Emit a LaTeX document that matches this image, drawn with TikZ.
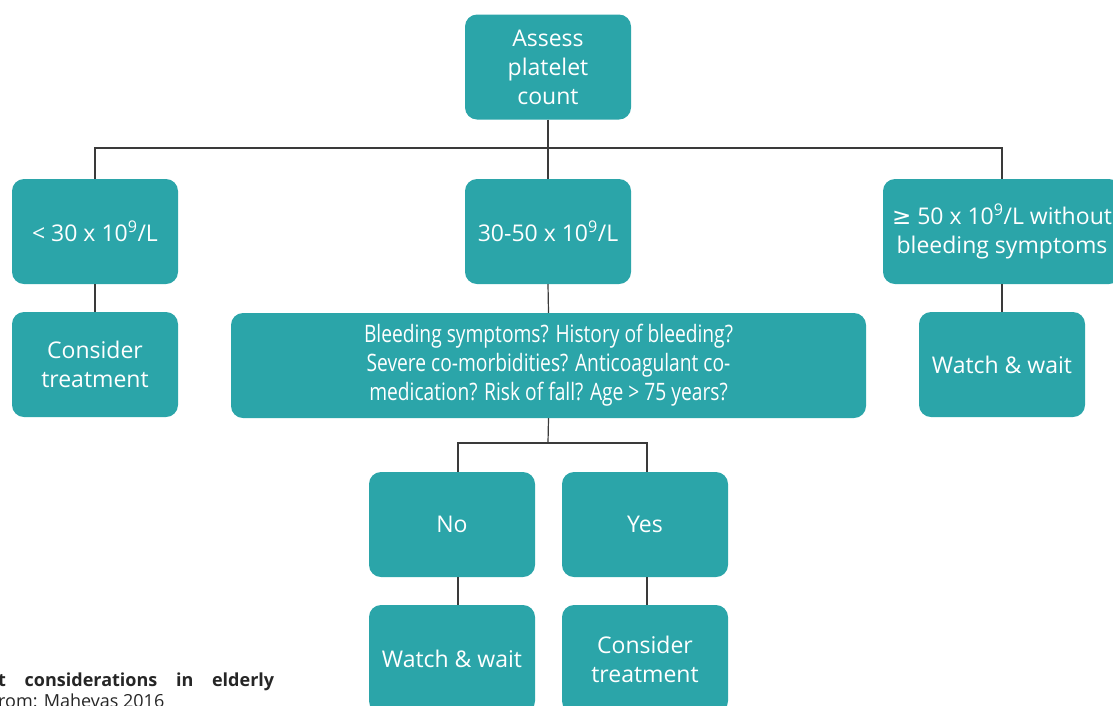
\documentclass[tikz,border=0pt]{standalone}
\usepackage{fontspec}
\setmainfont{Open Sans}
\newfontfamily\symf{DejaVu Sans}
\newfontfamily\condf[FakeStretch=0.80]{Open Sans}
\definecolor{teal1}{HTML}{2BA5A9}
\definecolor{linec}{HTML}{3A3A3A}
\begin{document}
\begin{tikzpicture}[x=1pt,y=-1pt,
  box/.style={fill=teal1, draw=none, rounded corners=12pt, text=white, align=center,
    font=\fontsize{23}{29}\selectfont, inner sep=0pt, anchor=center},
  conn/.style={draw=linec, line width=1.2pt}]
\clip (0,0) rectangle (1113,705);
\useasboundingbox (0,0) rectangle (1113,705);
% boxes
\node[box, minimum width=166pt, minimum height=105pt] (assess) at (548,67) {Assess\\platelet\\count};
\node[box, minimum width=166pt, minimum height=105pt] (low) at (95,231.5) {< 30 x 10\textsuperscript{9}/L};
\node[box, minimum width=166pt, minimum height=105pt] (mid) at (548,231.5) {30-50 x 10\textsuperscript{9}/L};
\node[box, minimum width=238pt, minimum height=105pt] (high) at (1002,231.5) {{\symf ≥} 50 x 10\textsuperscript{9}/L without\\bleeding symptoms};
\node[box, minimum width=166pt, minimum height=105pt] (ct1) at (95,364.5) {Consider\\treatment};
\node[box, minimum width=635pt, minimum height=105pt, font=\condf\fontsize{24}{29}\selectfont] (bleed) at (548.5,365.5) {Bleeding symptoms? History of bleeding?\\Severe co-morbidities? Anticoagulant co-\\medication? Risk of fall? Age > 75 years?};
\node[box, minimum width=166pt, minimum height=105pt] (ww1) at (1002,364.5) {Watch \& wait};
\node[box, minimum width=166pt, minimum height=105pt] (no) at (452,524.5) {No};
\node[box, minimum width=166pt, minimum height=105pt] (yes) at (645,524.5) {Yes};
\node[box, minimum width=166pt, minimum height=108pt] (ww2) at (452,659) {Watch \& wait};
\node[box, minimum width=166pt, minimum height=108pt] (ct2) at (645,659) {Consider\\treatment};
% connectors
\coordinate (j1) at (548,148);
\coordinate (j2) at (548,443);
\draw[conn] (assess.south) -- (j1);
\draw[conn] (low.north) |- (j1) -| (high.north);
\draw[conn] (j1) -- (mid.north);
\draw[conn] (low.south) -- (ct1.north);
\draw[conn] (mid.south) -- (bleed.north);
\draw[conn] (high.south) -- (ww1.north);
\draw[conn] (bleed.south) -- (j2);
\draw[conn] (j2) -| ([xshift=6pt]no.north);
\draw[conn] (j2) -| ([xshift=2pt]yes.north);
\draw[conn] ([xshift=6pt]no.south) -- ([xshift=6pt]ww2.north);
\draw[conn] ([xshift=2pt]yes.south) -- ([xshift=2pt]ct2.north);
% caption fragment
\node[anchor=base west, inner sep=0pt, text=black!85, font=\fontsize{18}{22}\selectfont\bfseries] (cap1) at (-2,686) {\makebox[276pt][s]{t considerations in elderly}};
\node[anchor=base west, inner sep=0pt, text=black!85, font=\fontsize{18}{22}\selectfont] (cap2) at (-2,707) {rom: Mahevas 2016};
\end{tikzpicture}
\end{document}
